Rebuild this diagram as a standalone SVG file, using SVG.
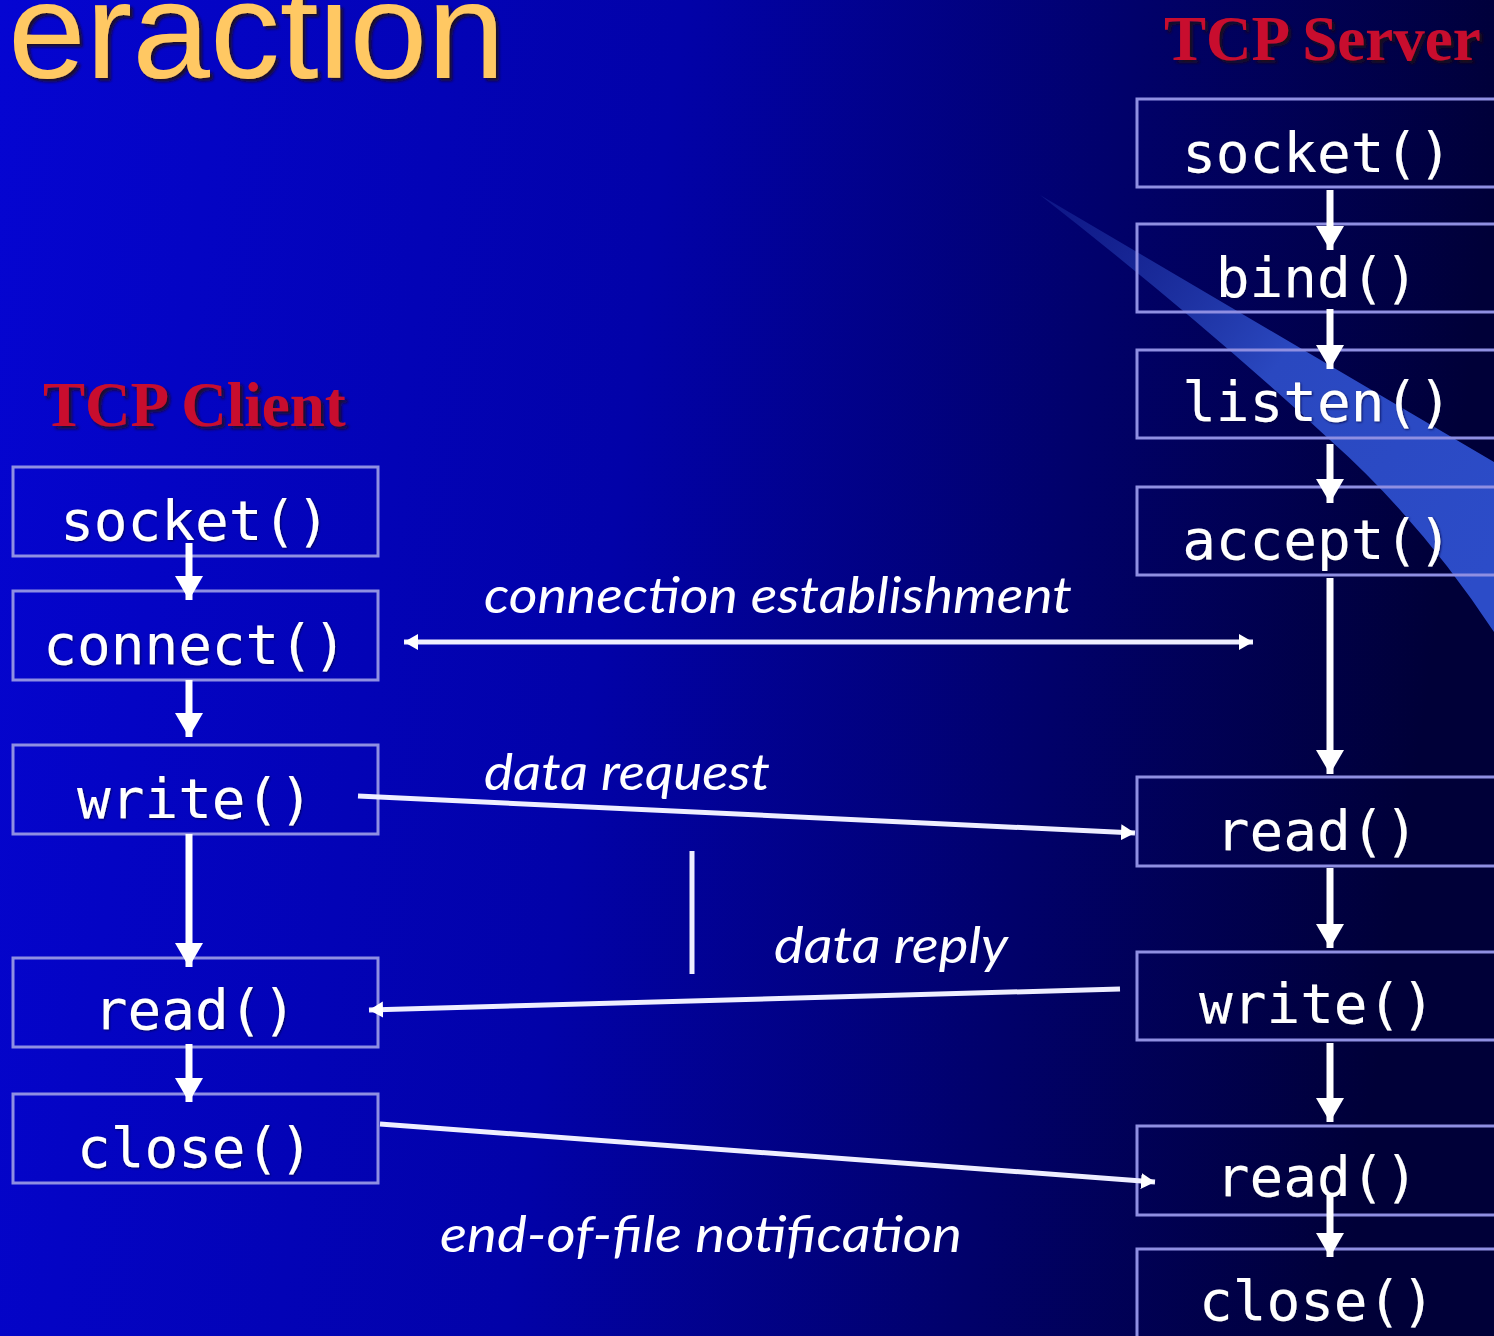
<svg xmlns="http://www.w3.org/2000/svg" width="1494" height="1336" viewBox="0 0 1494 1336">
  <defs>
    <linearGradient id="bg" x1="0" y1="0" x2="1494" y2="200" gradientUnits="userSpaceOnUse">
      <stop offset="0" stop-color="#0505d2"/>
      <stop offset="0.45" stop-color="#0202a8"/>
      <stop offset="0.75" stop-color="#01016a"/>
      <stop offset="1" stop-color="#000038"/>
    </linearGradient>
    <linearGradient id="streak" x1="1040" y1="195" x2="1494" y2="560" gradientUnits="userSpaceOnUse">
      <stop offset="0" stop-color="#1a2a9a" stop-opacity="0.5"/>
      <stop offset="0.5" stop-color="#2a48c0"/>
      <stop offset="1" stop-color="#2c4cc8"/>
    </linearGradient>
    <filter id="shadow" x="-10%" y="-20%" width="120%" height="140%">
      <feDropShadow dx="3" dy="3" stdDeviation="1.5" flood-color="#200808" flood-opacity="0.85"/>
    </filter>
    <filter id="glow" x="-5%" y="-20%" width="110%" height="140%">
      <feDropShadow dx="1" dy="1" stdDeviation="0.8" flood-color="#000040" flood-opacity="0.8"/>
    </filter>
    <marker id="head" markerUnits="userSpaceOnUse" markerWidth="30" markerHeight="30" refX="24" refY="14" orient="auto">
      <path d="M0,0 L24,14 L0,28 Z" fill="#ffffff"/>
    </marker>
    <marker id="small" markerUnits="userSpaceOnUse" markerWidth="20" markerHeight="20" refX="14" refY="8" orient="auto-start-reverse">
      <path d="M0,0 L14,8 L0,16 Z" fill="#ffffff"/>
    </marker>
    <style>
      .box { fill: none; stroke: #8f8fe2; stroke-width: 3; }
      .fn { font-family: "DejaVu Sans Mono", "Liberation Mono", monospace; font-size: 56px; fill: #ffffff; text-anchor: middle; }
      .flow { stroke: #ffffff; stroke-width: 7; fill: none; marker-end: url(#head); }
      .msg { stroke: #eeeeff; stroke-width: 5; fill: none; }
      .lbl { font-family: Lato, "Open Sans", "Liberation Sans", sans-serif; font-style: italic; font-size: 50px; fill: #ffffff; }
      .side { font-family: "Liberation Serif", "Times New Roman", serif; font-weight: bold; font-size: 63px; fill: #c8102e; }
    </style>
  </defs>

  <rect x="0" y="0" width="1494" height="1336" fill="url(#bg)"/>
  <path d="M1040,195 L1494,462 L1494,632 Q1420,520 1330,440 Q1200,320 1040,195 Z" fill="url(#streak)"/>

  <text x="8" y="78" font-family="Liberation Sans, Arial, sans-serif" font-size="138" fill="#ffc864" filter="url(#shadow)" textLength="497" lengthAdjust="spacingAndGlyphs">eraction</text>

  <text class="side" x="1164" y="60" filter="url(#shadow)">TCP Server</text>
  <text class="side" x="43" y="426" filter="url(#shadow)">TCP Client</text>

  <g id="client-socket"><rect class="box" x="13" y="467" width="365" height="89"/><text class="fn" x="195" y="540" filter="url(#glow)">socket()</text></g>
  <g id="client-connect"><rect class="box" x="13" y="591" width="365" height="89"/><text class="fn" x="195" y="664" filter="url(#glow)">connect()</text></g>
  <g id="client-write"><rect class="box" x="13" y="745" width="365" height="89"/><text class="fn" x="195" y="818" filter="url(#glow)">write()</text></g>
  <g id="client-read"><rect class="box" x="13" y="958" width="365" height="89"/><text class="fn" x="195" y="1029" filter="url(#glow)">read()</text></g>
  <g id="client-close"><rect class="box" x="13" y="1094" width="365" height="89"/><text class="fn" x="195" y="1167" filter="url(#glow)">close()</text></g>

  <g id="server-socket"><rect class="box" x="1137" y="99" width="400" height="88"/><text class="fn" x="1317" y="172" filter="url(#glow)">socket()</text></g>
  <g id="server-bind"><rect class="box" x="1137" y="224" width="400" height="88"/><text class="fn" x="1317" y="297" filter="url(#glow)">bind()</text></g>
  <g id="server-listen"><rect class="box" x="1137" y="350" width="400" height="88"/><text class="fn" x="1317" y="421" filter="url(#glow)">listen()</text></g>
  <g id="server-accept"><rect class="box" x="1137" y="487" width="400" height="88"/><text class="fn" x="1317" y="559" filter="url(#glow)">accept()</text></g>
  <g id="server-read1"><rect class="box" x="1137" y="777" width="400" height="89"/><text class="fn" x="1317" y="850" filter="url(#glow)">read()</text></g>
  <g id="server-write"><rect class="box" x="1137" y="952" width="400" height="88"/><text class="fn" x="1317" y="1023" filter="url(#glow)">write()</text></g>
  <g id="server-read2"><rect class="box" x="1137" y="1126" width="400" height="89"/><text class="fn" x="1317" y="1196" filter="url(#glow)">read()</text></g>
  <g id="server-close"><rect class="box" x="1137" y="1249" width="400" height="100"/><text class="fn" x="1317" y="1320" filter="url(#glow)">close()</text></g>

  <g id="connectors">
    <line class="flow" x1="189" y1="543" x2="189" y2="600"/>
    <line class="flow" x1="189" y1="680" x2="189" y2="737"/>
    <line class="flow" x1="189" y1="834" x2="189" y2="967"/>
    <line class="flow" x1="189" y1="1044" x2="189" y2="1102"/>

    <line class="flow" x1="1330" y1="190" x2="1330" y2="250"/>
    <line class="flow" x1="1330" y1="309" x2="1330" y2="369"/>
    <line class="flow" x1="1330" y1="444" x2="1330" y2="503"/>
    <line class="flow" x1="1330" y1="578" x2="1330" y2="774"/>
    <line class="flow" x1="1330" y1="868" x2="1330" y2="948"/>
    <line class="flow" x1="1330" y1="1043" x2="1330" y2="1122"/>
    <line class="flow" x1="1330" y1="1196" x2="1330" y2="1257"/>

    <line class="msg" x1="404" y1="642" x2="1253" y2="642" marker-start="url(#small)" marker-end="url(#small)"/>
    <line class="msg" x1="358" y1="796" x2="1135" y2="833" marker-end="url(#small)"/>
    <line class="msg" x1="1120" y1="989" x2="369" y2="1010" marker-end="url(#small)"/>
    <line class="msg" x1="380" y1="1124" x2="1155" y2="1182" marker-end="url(#small)"/>
    <line class="msg" x1="692" y1="851" x2="692" y2="974" stroke-width="4"/>
  </g>

  <g id="labels">
    <text class="lbl" x="484" y="613" textLength="588" lengthAdjust="spacingAndGlyphs">connection establishment</text>
    <text class="lbl" x="484" y="790" textLength="286" lengthAdjust="spacingAndGlyphs">data request</text>
    <text class="lbl" x="774" y="963" textLength="234" lengthAdjust="spacingAndGlyphs">data reply</text>
    <text class="lbl" x="440" y="1252" textLength="522" lengthAdjust="spacingAndGlyphs">end-of-file notification</text>
  </g>
</svg>
